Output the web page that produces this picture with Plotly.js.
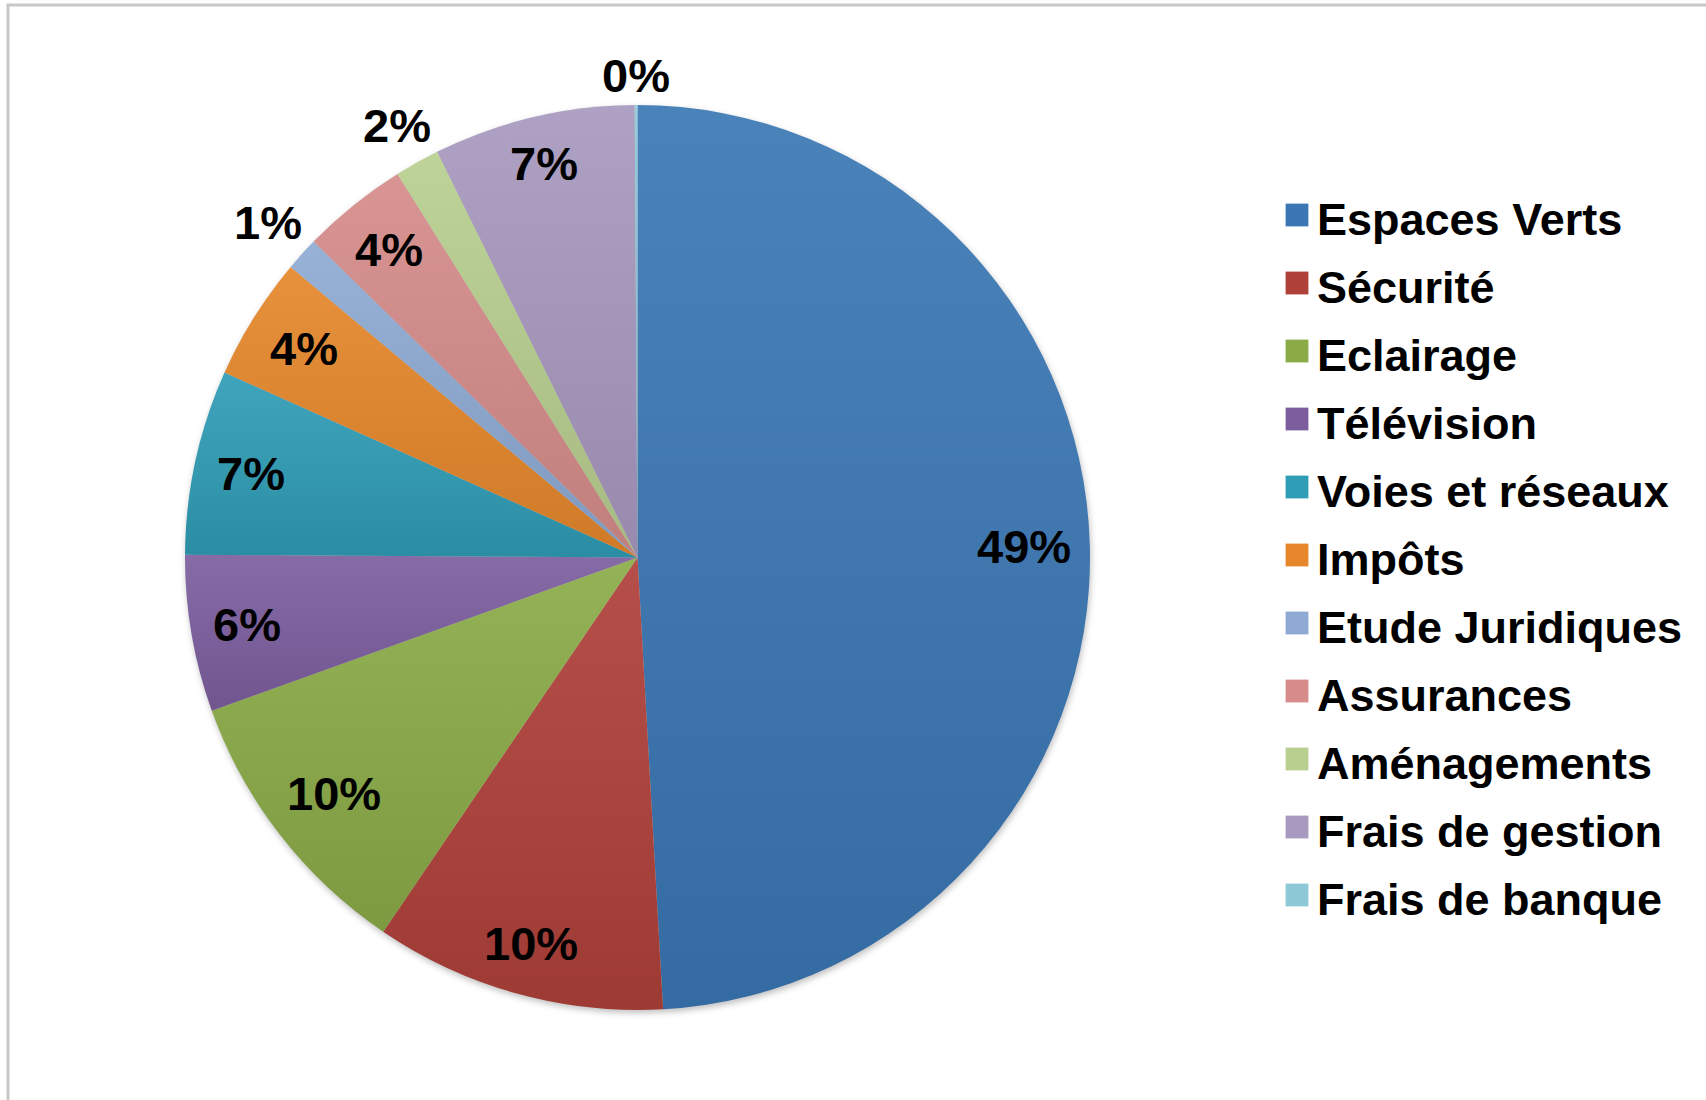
<!DOCTYPE html>
<html>
<head>
<meta charset="utf-8">
<script src="https://cdn.plot.ly/plotly-3.0.1.min.js"></script>
<style>
  html, body { margin: 0; padding: 0; background: #ffffff; }
  #chart { width: 1706px; height: 1100px; }
</style>
</head>
<body>
<div id="chart"></div>
<script>
// ---- data ----
const categories = ["Espaces Verts", "Sécurité", "Eclairage", "Télévision", "Voies et réseaux",
  "Impôts", "Etude Juridiques", "Assurances", "Aménagements", "Frais de gestion", "Frais de banque"];
const shares = [49.1, 10.4, 10.0, 5.6, 6.6, 4.4, 1.2, 3.8, 1.6, 7.2, 0.1];
const colors = ["#3a77b4", "#b0403a", "#8bab47", "#7c5e9f", "#2f9db6", "#e6872b",
  "#8eaad3", "#d58c8a", "#b8cf8f", "#a899bf", "#8ec9d8"];
const outsideLabels = ["Etude Juridiques", "Aménagements", "Frais de banque"];

// ---- layout constants ----
const W = 1706, H = 1100;
const CX = 637.5, CY = 557.5, R = 452.5;
const LABEL_FS = 47;

const total = shares.reduce((a, b) => a + b, 0);
const pctText = shares.map(v => Math.round(v / total * 100) + "%");

// label annotations positioned from the data (clockwise from 12 o'clock)
const annotations = [];
let cum = 0;
shares.forEach((v, i) => {
  const mid = (cum + v / 2) / total;
  cum += v;
  const th = 2 * Math.PI * mid;
  const s = Math.sin(th), c = Math.cos(th);
  const txt = pctText[i];
  const nd = txt.length - 1;
  const halfW = (nd * 0.5 + 0.85) * LABEL_FS / 2;
  const halfH = 19;
  let d;
  if (outsideLabels.includes(categories[i])) {
    d = R + 10 + halfW * Math.abs(s) + halfH * Math.abs(c);
  } else {
    d = R - 22 - halfW * Math.abs(s) - halfH * Math.abs(c);
  }
  const px = CX + d * s, py = CY - d * c;
  annotations.push({
    xref: "paper", yref: "paper", x: px / W, y: 1 - py / H,
    xanchor: "center", yanchor: "middle", showarrow: false,
    text: txt,
    font: { family: "Liberation Sans Narrow, Liberation Sans, Arial", size: LABEL_FS, color: "#000000", weight: "bold" }
  });
});

const trace = {
  type: "pie",
  labels: categories.map(c => '<span style="font-size:45px">' + c + '</span>'),
  values: shares,
  sort: false,
  direction: "clockwise",
  rotation: 0,
  textinfo: "none",
  hoverinfo: "label+percent",
  marker: { colors: colors, line: { width: 0 } },
  domain: { x: [(CX - R) / W, (CX + R) / W], y: [1 - (CY + R) / H, 1 - (CY - R) / H] }
};

const layout = {
  width: W, height: H,
  margin: { l: 0, r: 0, t: 0, b: 0 },
  paper_bgcolor: "#ffffff",
  showlegend: true,
  legend: {
    x: 1277 / W, xanchor: "left",
    y: 1 - 176 / H, yanchor: "top",
    font: { family: "Liberation Sans, Arial", size: 50, color: "#000000", weight: "bold" },
    bgcolor: "rgba(0,0,0,0)", borderwidth: 0
  },
  annotations: annotations,
  shapes: [{
    type: "rect", xref: "paper", yref: "paper",
    x0: 8 / W, x1: 1.05, y0: -0.05, y1: 1 - 5 / H,
    line: { color: "#c8c8c8", width: 3 }, fillcolor: "rgba(0,0,0,0)"
  }]
};

function shade(hex, f) {
  const n = parseInt(hex.slice(1), 16);
  let r = (n >> 16) & 255, g = (n >> 8) & 255, b = n & 255;
  if (f >= 0) { r += (255 - r) * f; g += (255 - g) * f; b += (255 - b) * f; }
  else { r *= (1 + f); g *= (1 + f); b *= (1 + f); }
  return "rgb(" + Math.round(r) + "," + Math.round(g) + "," + Math.round(b) + ")";
}

Plotly.newPlot("chart", [trace], layout, { displayModeBar: false, staticPlot: true }).then(() => {
  const gd = document.getElementById("chart");
  // legend symbols a bit larger
  gd.querySelectorAll(".legendpoints path").forEach(p => {
    const t = p.getAttribute("transform") || "";
    p.setAttribute("transform", t + " scale(1.9)");
  });
  // vertical gradient shading per slice (Excel-like)
  const svg = gd.querySelector(".main-svg");
  const ns = "http://www.w3.org/2000/svg";
  const defs = document.createElementNS(ns, "defs");
  colors.forEach((col, i) => {
    const lg = document.createElementNS(ns, "linearGradient");
    lg.setAttribute("id", "sliceGrad" + i);
    lg.setAttribute("x1", "0"); lg.setAttribute("y1", "0");
    lg.setAttribute("x2", "0"); lg.setAttribute("y2", "1");
    [[0, shade(col, 0.08)], [1, shade(col, -0.1)]].forEach(([o, c]) => {
      const st = document.createElementNS(ns, "stop");
      st.setAttribute("offset", o);
      st.setAttribute("stop-color", c);
      lg.appendChild(st);
    });
    defs.appendChild(lg);
  });
  svg.insertBefore(defs, svg.firstChild);
  gd.querySelectorAll(".pielayer .slice path.surface").forEach((p, i) => {
    p.style.fill = "url(#sliceGrad" + i + ")";
  });
  const pieGroup = gd.querySelector(".pielayer .trace");
  if (pieGroup) pieGroup.style.filter = "drop-shadow(1px 3px 3px rgba(0,0,0,0.25))";
});
</script>
</body>
</html>
